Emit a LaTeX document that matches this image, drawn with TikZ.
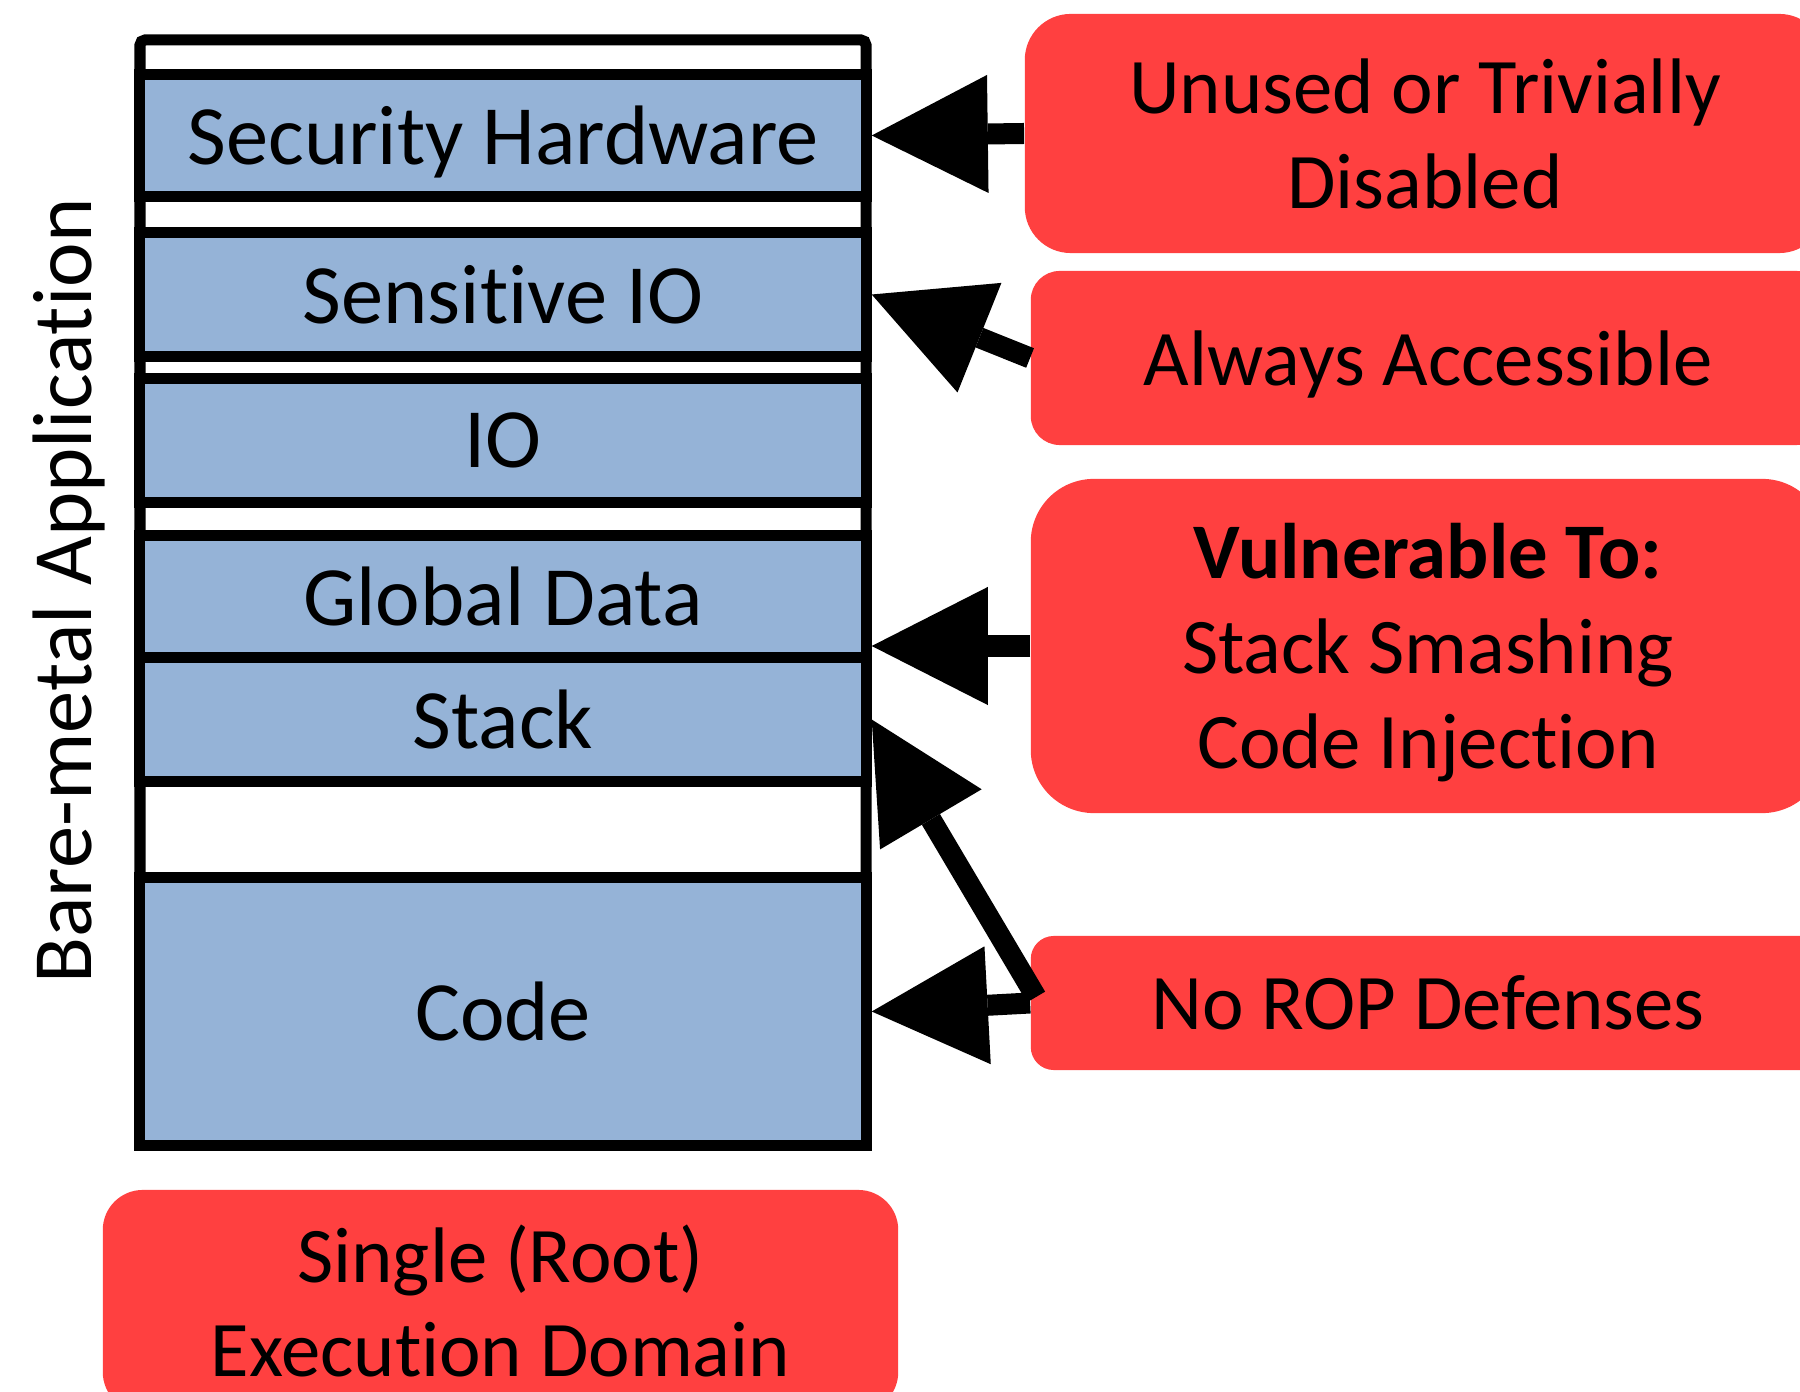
\documentclass[tikz,border=0pt]{standalone}
\usepackage{fontspec}
\setmainfont{Carlito}[Ligatures={NoCommon,NoContextual,NoRare},Contextuals=NoAlternate]
\usepackage{tikz}
\usetikzlibrary{arrows.meta}
\definecolor{memblue}{RGB}{149,179,215}
\definecolor{warnred}{RGB}{255,64,64}
\newcommand{\down}[1]{\raisebox{0pt}[\dimexpr\height+0.14cm\relax]{#1}}

\begin{document}
\begin{tikzpicture}[x=0.01cm,y=-0.01cm,
  mem/.style={draw,line width=0.11cm,fill=memblue,minimum width=7.26cm,inner sep=0pt,
    font=\fontsize{24}{29}\selectfont},
  warn/.style={fill=warnred,align=center,inner sep=0pt,
    font=\fontsize{22.4}{27}\selectfont},
  bigarrow/.style={line width=0.21cm,-{Triangle[length=1.16cm,width=1.18cm,line width=0pt]}}]
\clip (0,0) rectangle (1800,1392);
% memory map
\draw[line width=0.11cm,rounded corners=0.05cm,fill=white] (140,40) rectangle (866,1145);
\node[mem,minimum height=1.21cm] (sec) at (503,135.5) {\down{Security Hardware}};
\node[mem,minimum height=1.23cm] (sens) at (503,294.5) {Sensitive IO};
\node[mem,minimum height=1.23cm] (io) at (503,440.5) {IO};
\node[mem,minimum height=1.22cm] (glob) at (503,597) {Global Data};
\node[mem,minimum height=1.23cm] (stack) at (503,719.5) {Stack};
\node[mem,minimum height=2.67cm] (code) at (503,1011.5) {Code};
\node[rotate=90,font=\fontsize{24}{29}\selectfont] (app) at (69,591) {Bare-metal Application};
% weaknesses
\node[warn,rounded corners=0.46cm,minimum width=8.0cm,minimum height=2.39cm] (lab1) at (1425,133.5)
  {Unused or Trivially\\Disabled};
\node[warn,rounded corners=0.29cm,minimum width=7.94cm,minimum height=1.74cm] (lab2) at (1428,358)
  {\down{Always Accessible}};
\node[warn,rounded corners=0.63cm,minimum width=7.94cm,minimum height=3.34cm] (lab3) at (1428,646)
  {\down{\textbf{Vulnerable To:}}\\Stack Smashing\\Code Injection};
\node[warn,rounded corners=0.23cm,minimum width=7.94cm,minimum height=1.34cm] (lab4) at (1428,1003)
  {No ROP Defenses};
\node[warn,rounded corners=0.40cm,minimum width=7.95cm,minimum height=2.22cm] (lab5) at (500.5,1301)
  {Single (Root)\\Execution Domain};
% arrows
\draw[bigarrow] (lab1.west) -- (sec.east);
\draw[bigarrow] (lab2.west) -- (sens.east);
\draw[bigarrow] (lab3.west) -- (lab3.west -| glob.east);
\draw[bigarrow] (lab4.west) -- (code.east);
\draw[bigarrow] ([xshift=0.06cm,yshift=0.06cm]lab4.west) -- (stack.east);
\end{tikzpicture}
\end{document}
